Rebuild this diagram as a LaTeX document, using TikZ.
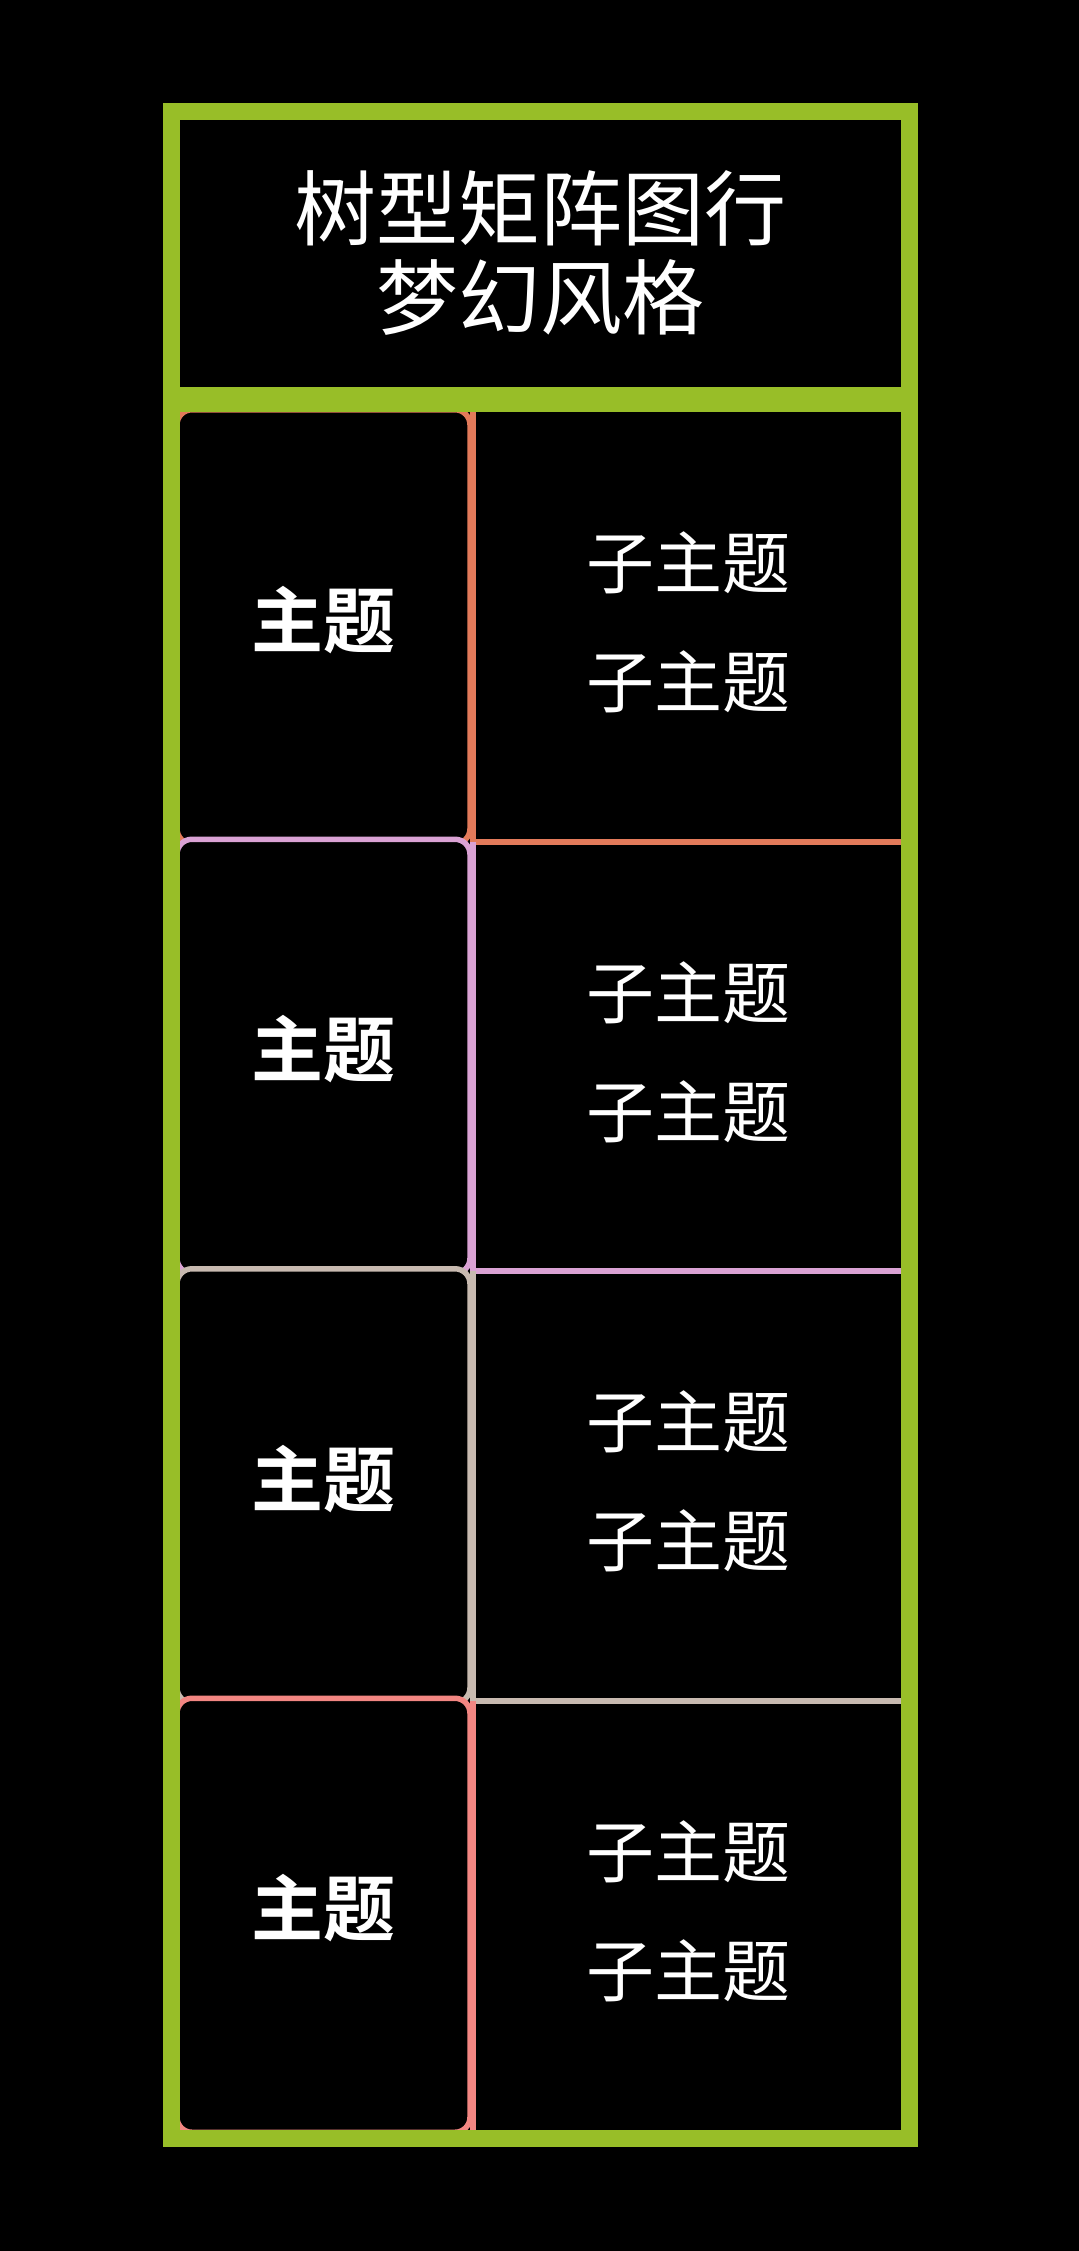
\documentclass[tikz,border=0pt]{standalone}
\usepackage{fontspec}
\setmainfont{Noto Sans CJK SC}[BoldFont={Noto Sans CJK SC Bold}]
\usetikzlibrary{positioning}
\definecolor{fgreen}{RGB}{152,190,40}
\definecolor{rowA}{RGB}{226,122,90}
\definecolor{rowB}{RGB}{218,162,212}
\definecolor{rowC}{RGB}{200,186,176}
\definecolor{rowD}{RGB}{242,134,130}
\tikzset{
	myframe/.style={draw=fgreen,line width=8.5pt},
	mytitle/.style={text=white,align=center,font=\fontsize{41}{44.5}\selectfont},
	mytopic/.style={draw=#1,line width=2.75pt,rounded corners=7.5pt,fill=black,text=white,minimum width=146.5pt,minimum height=217pt,inner sep=0pt,text depth=10pt,font=\bfseries\fontsize{36}{40}\selectfont},
	mysub/.style={minimum width=216pt,minimum height=214.75pt,inner sep=0pt,outer sep=0pt,text=white,align=center,text depth=7pt,font=\fontsize{34}{59.5}\selectfont},
	mybranch/.style={draw=#1,line width=3pt}
}

\begin{document}
\begin{tikzpicture}[x=0.5pt,y=-0.5pt]
		\useasboundingbox (0,0) rectangle (1079,2251);
		\fill[black] (0,0) rectangle (1079,2251);
		\node[mytitle](title) at (540.5,252.5){树型矩阵图行\\梦幻风格};
		% row 1
		\node[mytopic=rowA](topic1) at (323.5,626.75){主题};
		\node[mysub,right = 0pt of topic1](sub1){子主题\\子主题};
		\draw[mybranch=rowA] (sub1.north west) -- (sub1.south west) -- (sub1.south east);
		% row 2
		\node[mytopic=rowB](topic2) at (323.5,1056.25){主题};
		\node[mysub,right = 0pt of topic2](sub2){子主题\\子主题};
		\draw[mybranch=rowB] (sub2.north west) -- (sub2.south west) -- (sub2.south east);
		% row 3
		\node[mytopic=rowC](topic3) at (323.5,1485.75){主题};
		\node[mysub,right = 0pt of topic3](sub3){子主题\\子主题};
		\draw[mybranch=rowC] (sub3.north west) -- (sub3.south west) -- (sub3.south east);
		% row 4
		\node[mytopic=rowD](topic4) at (323.5,1915.25){主题};
		\node[mysub,right = 0pt of topic4](sub4){子主题\\子主题};
		\draw[mybranch=rowD] (sub4.north west) -- (sub4.south west);
		% frame on top
		\draw[myframe,line width=12.5pt] (171.5,399.5) -- (909.5,399.5);
		\draw[myframe] (171.5,111.5) rectangle (909.5,2138.5);
	\end{tikzpicture}
\end{document}
